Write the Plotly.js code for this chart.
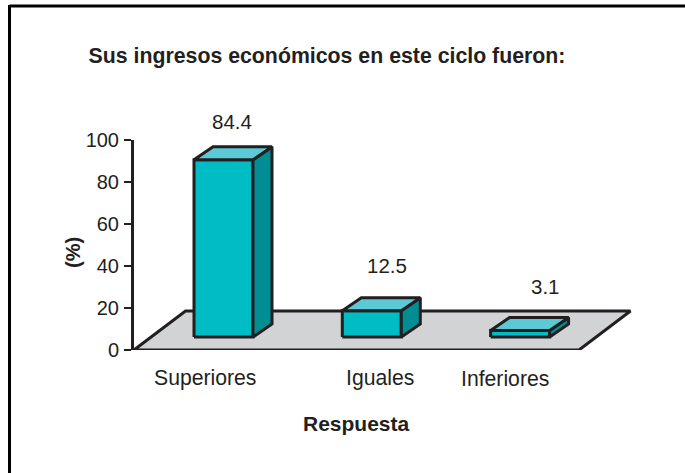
<!DOCTYPE html>
<html><head><meta charset="utf-8">
<script src="https://cdn.plot.ly/plotly-3.0.1.min.js"></script>
<style>html,body{margin:0;padding:0;background:#fff}</style>
</head><body><div id="chart" style="width:685px;height:473px"></div>
<script>
// Data
const categories = ['Superiores', 'Iguales', 'Inferiores'];
const values = [84.4, 12.5, 3.1];
const yTicks = [0, 20, 40, 60, 80, 100];
const chartTitle = 'Sus ingresos económicos en este ciclo fueron:';
const xTitle = 'Respuesta';
const yTitle = '(%)';

// Geometry of the fake-3D projection, in axis units
const pxX = 148.3, pxY = 2.1;
const plotL = 134, plotR = 645, plotT = 140, plotB = 350;
const x0Px = 223.5;
const halfW = 29.5 / pxX;
const depthX = 19 / pxX, depthY = 13 / pxY;
const floorL = (134 - x0Px) / pxX, floorR = (579 - x0Px) / pxX;
const floorDX = 51.5 / pxX, floorDY = 39 / pxY;
const labelPos = [(205 - x0Px) / pxX, (380 - x0Px) / pxX, (505 - x0Px) / pxX];
const labelDX = [8.5 / pxX, 15 / pxX, 25 / pxX];
const labelDY = [25 / pxY, 32.5 / pxY, 31 / pxY];

const font = 'Liberation Sans, Arial, sans-serif';
const ink = '#231f20';
const lw = 3;
const poly = (xs, ys, fill) => ({
  x: xs, y: ys, type: 'scatter', mode: 'lines', fill: 'toself', fillcolor: fill,
  line: {color: ink, width: lw}, hoverinfo: 'skip', showlegend: false, cliponaxis: false
});

const traces = [poly([floorL, floorR, floorR + floorDX, floorL + floorDX, floorL],
                     [0, 0, floorDY, floorDY, 0], '#d1d3d4')];
const W = plotR - plotL, H = plotB - plotT;
const annotations = [];
const note = (o) => annotations.push(Object.assign({showarrow: false, xanchor: 'center', yanchor: 'middle'}, o));
values.forEach((v, i) => {
  const l = i - halfW, r = i + halfW, b = depthY, t = depthY + v;
  traces.push(poly([l, r, r, l, l], [b, b, t, t, b], '#00bcc4'));
  traces.push(poly([r, r + depthX, r + depthX, r, r], [b, b + depthY, t + depthY, t, b], '#008e94'));
  traces.push(poly([l, r, r + depthX, l + depthX, l], [t, t, t + depthY, t + depthY, t], '#5cc9d6'));
  note({x: i + labelDX[i], y: (t + depthY + labelDY[i]) / 100, xref: 'x', yref: 'paper',
    text: String(v), font: {family: font, size: 20.5, color: ink}});
});
categories.forEach((c, i) => note({x: labelPos[i], y: (plotB - 378) / H, xref: 'x', yref: 'paper',
  text: c, font: {family: font, size: 21.2, color: ink}}));
note({x: (73 - plotL) / W, y: (plotB - 253) / H, xref: 'paper', yref: 'paper',
  text: '<b>' + yTitle + '</b>', textangle: -90, font: {family: font, size: 20, color: ink}});
note({x: (356.5 - plotL) / W, y: (plotB - 423) / H, xref: 'paper', yref: 'paper',
  text: '<b>' + xTitle + '</b>', font: {family: font, size: 21, color: ink}});

const frameX = 9.5, frameY = 6;
const layout = {
  width: 685, height: 473, showlegend: false,
  paper_bgcolor: '#fff', plot_bgcolor: 'rgba(0,0,0,0)',
  margin: {l: plotL, r: 685 - plotR, t: plotT, b: 473 - plotB, pad: 0},
  font: {family: font, color: ink},
  title: {text: '<b>' + chartTitle + '</b>', font: {family: font, size: 21.3, color: ink},
          x: 327 / 685, xanchor: 'center', y: 1 - 56 / 473, yanchor: 'middle'},
  xaxis: {range: [(plotL - x0Px) / pxX, (plotR - x0Px) / pxX], showgrid: false, zeroline: false,
          showline: false, showticklabels: false, ticks: '', fixedrange: true},
  yaxis: {range: [0, 100], tickvals: yTicks, ticktext: yTicks.map(String), showgrid: false, zeroline: false,
          showline: true, linecolor: ink, linewidth: lw, ticks: 'outside', ticklen: 7, tickwidth: 2.5, tickcolor: ink,
          tickfont: {family: font, size: 20, color: ink}, ticklabelstandoff: 1, fixedrange: true},
  annotations: annotations,
  shapes: [
    {type: 'line', xref: 'paper', yref: 'paper', layer: 'below',
     x0: (frameX - plotL) / W, x1: (700 - plotL) / W, y0: (plotB - frameY) / H, y1: (plotB - frameY) / H,
     line: {color: '#000', width: 3}},
    {type: 'line', xref: 'paper', yref: 'paper', layer: 'below',
     x0: (frameX - plotL) / W, x1: (frameX - plotL) / W, y0: (plotB - frameY + 1) / H, y1: (plotB - 490) / H,
     line: {color: '#000', width: 3}}
  ]
};
Plotly.newPlot('chart', traces, layout, {displayModeBar: false, staticPlot: true});
</script></body></html>
